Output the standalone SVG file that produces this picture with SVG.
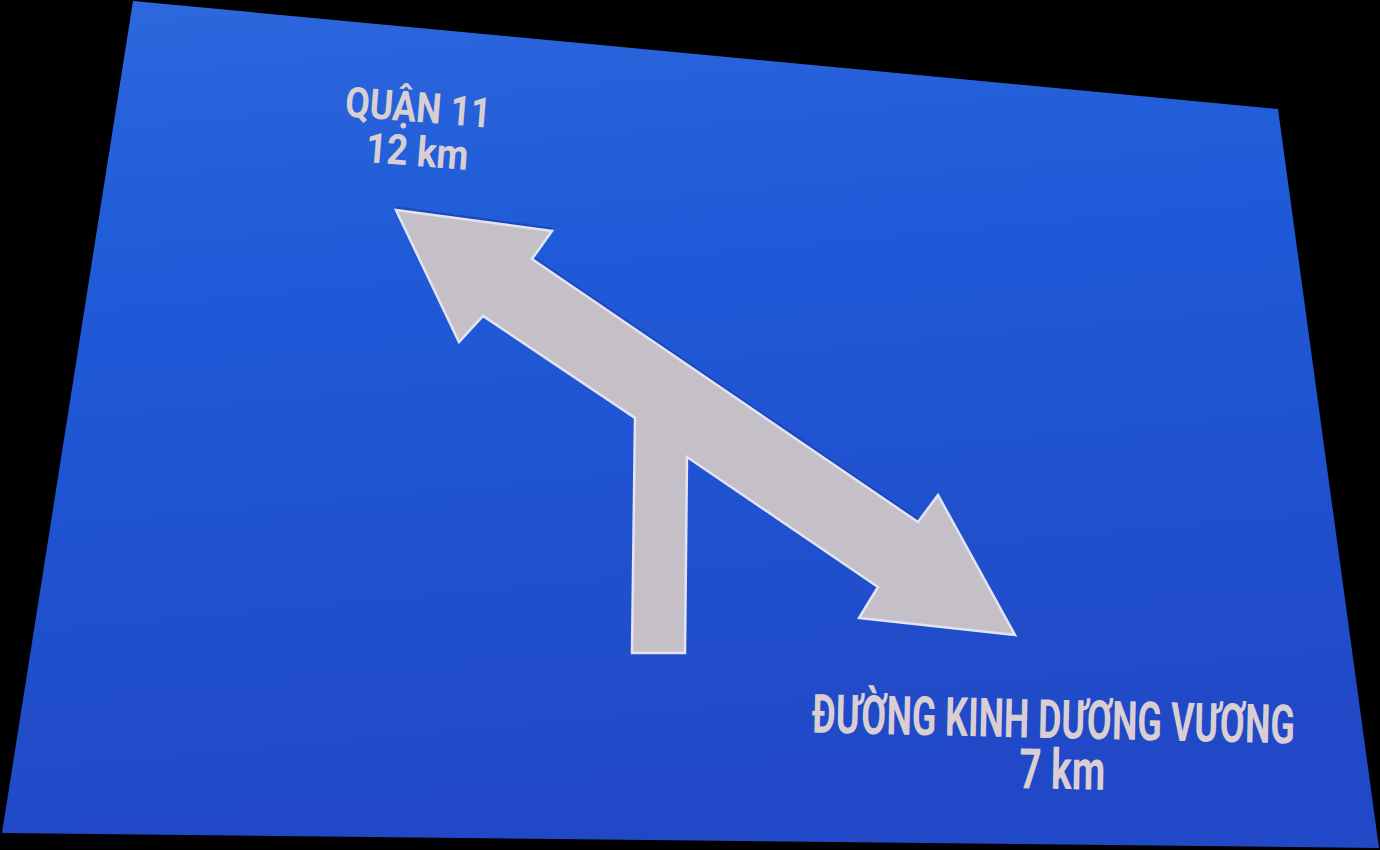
<svg xmlns="http://www.w3.org/2000/svg" width="1380" height="850" viewBox="0 0 1380 850">
  <defs>
    <linearGradient id="blueGrad" x1="0" y1="0" x2="0.15" y2="1">
      <stop offset="0" stop-color="#2d68de"/>
      <stop offset="0.35" stop-color="#1f5ad8"/>
      <stop offset="1" stop-color="#2148c6"/>
    </linearGradient>
    <style>
      .sign-text { font-family: Roboto, "DejaVu Sans Condensed", "Liberation Sans", sans-serif; font-weight: bold; fill: #d9cfd2; text-anchor: middle; }
      .arrow-shape { fill: #c5c0c7; stroke: #e3e4f2; stroke-width: 2.5; stroke-linejoin: miter; }
      .arrow-shadow { fill: none; stroke: #1a3aa8; stroke-width: 3; opacity: 0.6; }
    </style>
  </defs>

  <rect x="0" y="0" width="1380" height="850" fill="#000000"/>

  <g id="sign-panel">
    <polygon points="133,1 1278,109 1379,848 2,833" fill="url(#blueGrad)"/>
  </g>

  <g id="connectors">
    <g id="arrow">
      <polyline class="arrow-shadow" points="396,208 552,229" />
      <polyline class="arrow-shadow" points="532,257 918,520" />
      <polygon class="arrow-shape" points="396,210 552,231 532,259 918,522 938,495 1015,635 859,618 878,587 687,457 685,653 632,653 635,418 483,316 459,342"/>
    </g>
  </g>

  <g id="node-quan11">
    <text class="sign-text" font-size="42" x="417" y="122" textLength="146" lengthAdjust="spacingAndGlyphs" transform="rotate(4.5 417 122)">QUẬN 11</text>
    <text class="sign-text" font-size="42" x="416" y="166" textLength="103" lengthAdjust="spacingAndGlyphs" transform="rotate(4.5 416 166)">12 km</text>
  </g>

  <g id="node-kinh-duong-vuong">
    <text class="sign-text" font-size="54" x="1053" y="738" textLength="483" lengthAdjust="spacingAndGlyphs" transform="rotate(1.3 1053 738)">ĐƯỜNG KINH DƯƠNG VƯƠNG</text>
    <text class="sign-text" font-size="56" x="1062" y="789" textLength="86" lengthAdjust="spacingAndGlyphs" transform="rotate(1 1062 789)">7 km</text>
  </g>
</svg>
